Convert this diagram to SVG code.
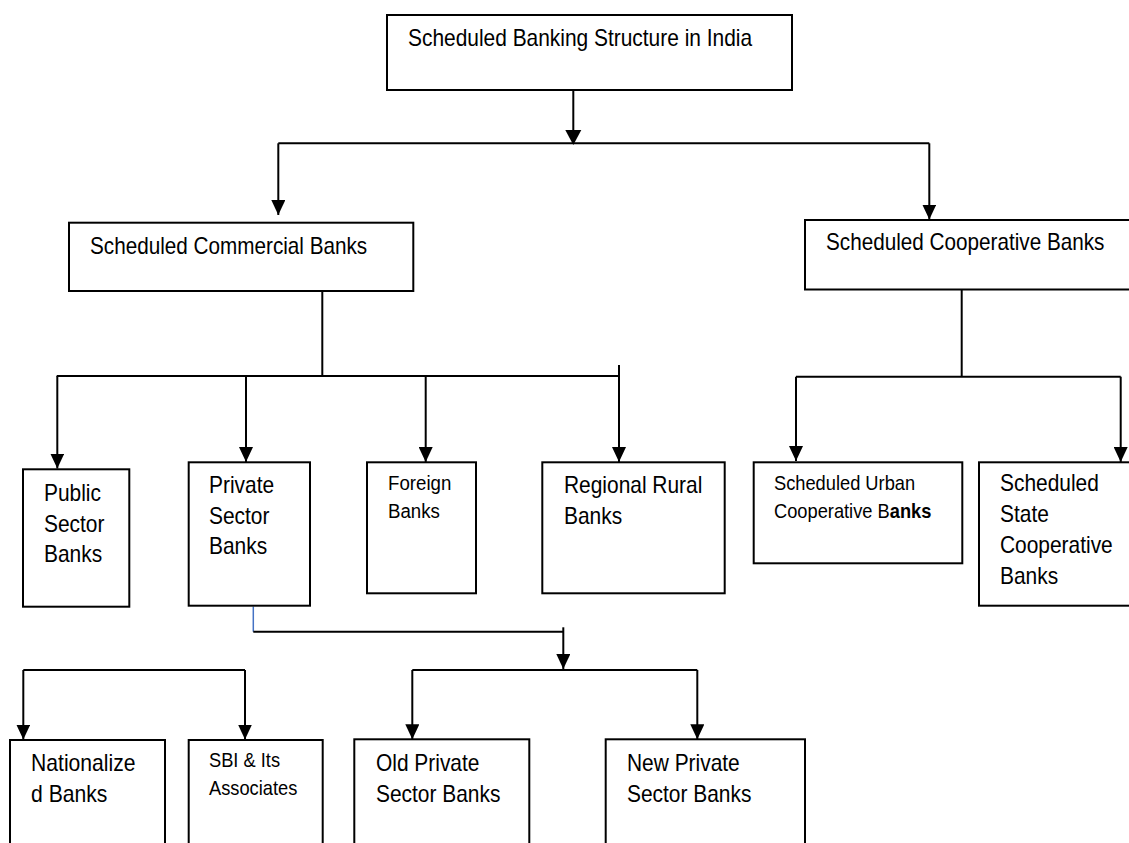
<svg xmlns="http://www.w3.org/2000/svg" width="1129" height="843" viewBox="0 0 1129 843">
<style>
.box{fill:#fff;stroke:#000;stroke-width:2}
.ln{fill:none;stroke:#000;stroke-width:2}
.arr{fill:none;stroke:#000;stroke-width:2;marker-end:url(#ah)}
.t{font-family:"Liberation Sans",Arial,sans-serif;font-size:23px;fill:#000}
.s{font-family:"Liberation Sans",Arial,sans-serif;font-size:21px;fill:#000}
</style>
<defs>
<marker id="ah" viewBox="0 0 15 14" markerWidth="15" markerHeight="14" refX="15" refY="7" orient="auto" markerUnits="userSpaceOnUse">
<path d="M0,0 L15,7 L0,14 z" fill="#000"/>
</marker>
</defs>
<rect width="1129" height="843" fill="#fff"/>
<g id="connectors">
<line class="ln" x1="573.3" y1="90" x2="573.3" y2="131"/>
<path d="M565.3,130 L581.3,130 L573.3,145 z" fill="#000"/>
<line class="ln" x1="278.3" y1="143.3" x2="929.3" y2="143.3"/>
<line class="arr" x1="278.3" y1="143.3" x2="278.3" y2="215"/>
<line class="arr" x1="929.3" y1="143.3" x2="929.3" y2="219.5"/>
<line class="ln" x1="322.3" y1="291" x2="322.3" y2="376"/>
<line class="ln" x1="56.7" y1="376" x2="619" y2="376"/>
<line class="arr" x1="57.3" y1="376" x2="57.3" y2="468.5"/>
<line class="arr" x1="246" y1="376" x2="246" y2="462"/>
<line class="arr" x1="425.7" y1="376" x2="425.7" y2="462"/>
<line class="arr" x1="619" y1="365" x2="619" y2="462"/>
<line class="ln" x1="961.7" y1="289.5" x2="961.7" y2="376.7"/>
<line class="ln" x1="796" y1="376.7" x2="1120.7" y2="376.7"/>
<line class="arr" x1="796" y1="376.7" x2="796" y2="461"/>
<line class="arr" x1="1120.7" y1="376.7" x2="1120.7" y2="462"/>
<line x1="253.3" y1="606.5" x2="253.3" y2="631.7" stroke="#4472C4" stroke-width="1.5"/>
<line class="ln" x1="253.3" y1="631.7" x2="563.3" y2="631.7"/>
<line class="arr" x1="563.3" y1="627.3" x2="563.3" y2="669"/>
<line class="ln" x1="412.3" y1="670" x2="697.3" y2="670"/>
<line class="arr" x1="412.3" y1="670" x2="412.3" y2="739.3"/>
<line class="arr" x1="697.3" y1="670" x2="697.3" y2="739.3"/>
<line class="ln" x1="23.3" y1="670" x2="245" y2="670"/>
<line class="arr" x1="23.3" y1="670" x2="23.3" y2="739.5"/>
<line class="arr" x1="245" y1="670" x2="245" y2="739.5"/>
</g>
<g id="root">
<rect class="box" x="387" y="15" width="405" height="75"/>
<text class="t" transform="matrix(0.91 0 0 1 408 46)">Scheduled Banking Structure in India</text>
</g>
<g id="commercial">
<rect class="box" x="69" y="222.7" width="344.3" height="68.3"/>
<text class="t" transform="matrix(0.9 0 0 1 90 254)">Scheduled Commercial Banks</text>
</g>
<g id="cooperative">
<rect class="box" x="805" y="220" width="340" height="69.5"/>
<text class="t" transform="matrix(0.9 0 0 1 826 249.5)">Scheduled Cooperative Banks</text>
</g>
<g id="public">
<rect class="box" x="23" y="469.3" width="106.3" height="137.4"/>
<text class="t" transform="matrix(0.91 0 0 1 44 501)">Public</text>
<text class="t" transform="matrix(0.91 0 0 1 44 532)">Sector</text>
<text class="t" transform="matrix(0.91 0 0 1 44 562)">Banks</text>
</g>
<g id="private">
<rect class="box" x="188.7" y="462.3" width="121.3" height="143.4"/>
<text class="t" transform="matrix(0.91 0 0 1 209 493)">Private</text>
<text class="t" transform="matrix(0.91 0 0 1 209 523.5)">Sector</text>
<text class="t" transform="matrix(0.91 0 0 1 209 554)">Banks</text>
</g>
<g id="foreign">
<rect class="box" x="367" y="462.3" width="109" height="131"/>
<text class="s" transform="matrix(0.89 0 0 1 388 490)">Foreign</text>
<text class="s" transform="matrix(0.89 0 0 1 388 517.5)">Banks</text>
</g>
<g id="rrb">
<rect class="box" x="542.3" y="462.3" width="182.4" height="131"/>
<text class="t" transform="matrix(0.91 0 0 1 564 493)">Regional Rural</text>
<text class="t" transform="matrix(0.91 0 0 1 564 523.5)">Banks</text>
</g>
<g id="urban">
<rect class="box" x="753.7" y="462.3" width="208.6" height="101"/>
<text class="s" transform="matrix(0.87 0 0 1 774 489.5)">Scheduled Urban</text>
<text class="s" transform="matrix(0.87 0 0 1 774 517.5)">Cooperative B<tspan font-weight="bold">anks</tspan></text>
</g>
<g id="state">
<rect class="box" x="979" y="462.3" width="170" height="143.4"/>
<text class="t" transform="matrix(0.91 0 0 1 1000 491)">Scheduled</text>
<text class="t" transform="matrix(0.91 0 0 1 1000 522)">State</text>
<text class="t" transform="matrix(0.91 0 0 1 1000 553)">Cooperative</text>
<text class="t" transform="matrix(0.91 0 0 1 1000 584)">Banks</text>
</g>
<g id="nationalized">
<rect class="box" x="10" y="740" width="155" height="120"/>
<text class="t" transform="matrix(0.92 0 0 1 31 771)">Nationalize</text>
<text class="t" transform="matrix(0.92 0 0 1 31 801.5)">d Banks</text>
</g>
<g id="sbi">
<rect class="box" x="188.7" y="740" width="134" height="120"/>
<text class="s" transform="matrix(0.87 0 0 1 209 767)">SBI &amp; Its</text>
<text class="s" transform="matrix(0.87 0 0 1 209 795)">Associates</text>
</g>
<g id="oldprivate">
<rect class="box" x="354.3" y="739.3" width="175" height="120"/>
<text class="t" transform="matrix(0.91 0 0 1 376 771)">Old Private</text>
<text class="t" transform="matrix(0.91 0 0 1 376 802)">Sector Banks</text>
</g>
<g id="newprivate">
<rect class="box" x="605.7" y="739.3" width="199.3" height="120"/>
<text class="t" transform="matrix(0.91 0 0 1 627 771)">New Private</text>
<text class="t" transform="matrix(0.91 0 0 1 627 802)">Sector Banks</text>
</g>
</svg>
